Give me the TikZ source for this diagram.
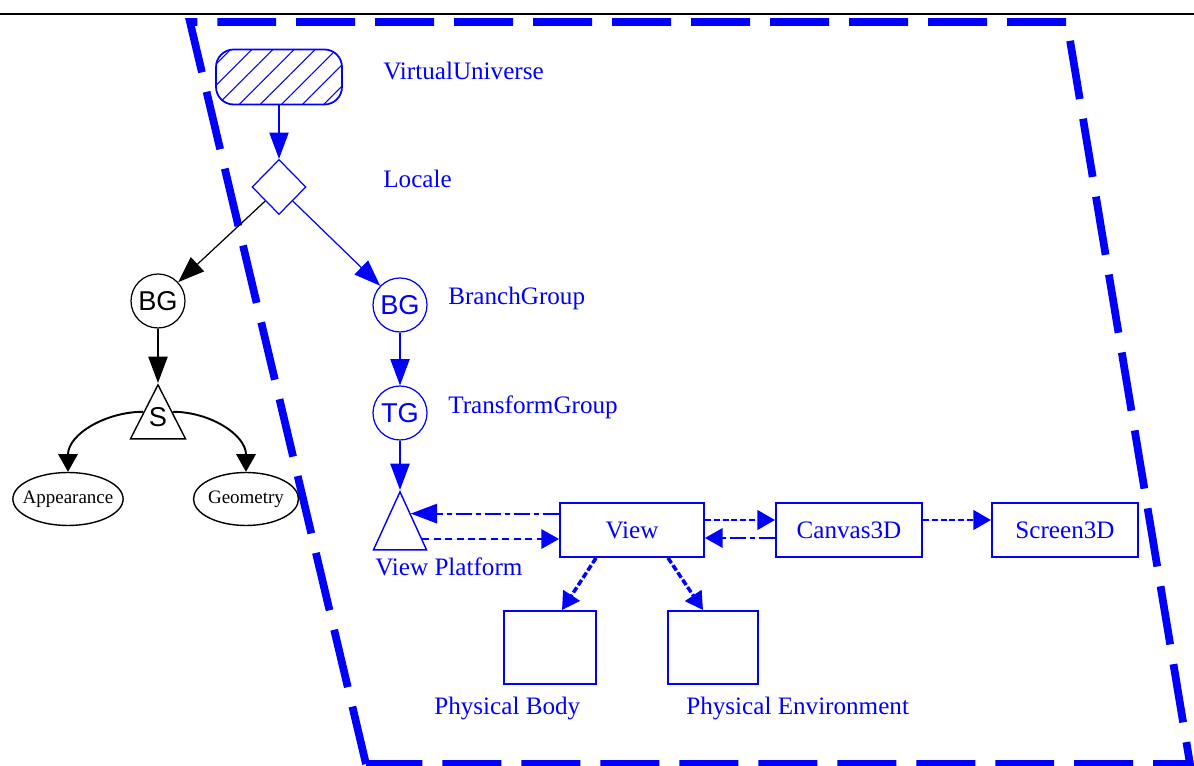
\documentclass[tikz,border=0pt]{standalone}
\usepackage{fontspec}
\setmainfont{Liberation Serif}
\newfontfamily\grpfont{Liberation Sans}
\usetikzlibrary{arrows.meta,positioning,calc,shapes.geometric,patterns.meta}
\tikzset{
  frame/.style ={draw=blue,line width=4.4pt,dash pattern=on 1.18cm off 0.4cm},
  vu/.style    ={draw=blue,line width=1pt,rounded corners=10pt,minimum width=2.52cm,minimum height=1.1cm,
                 pattern={Lines[angle=45,distance=8.5pt,line width=0.6pt]},pattern color=blue},
  loc/.style   ={diamond,draw=blue,line width=0.7pt,minimum width=1.08cm,minimum height=1.1cm,inner sep=0pt},
  grp/.style   ={circle,draw,line width=0.7pt,minimum size=1.08cm,inner sep=0pt,font=\grpfont\fontsize{15.5}{18}\selectfont},
  tri/.style   ={isosceles triangle,isosceles triangle stretches,shape border rotate=90,draw,line width=0.8pt,
                 inner sep=0pt,anchor=apex},
  leaf/.style  ={ellipse,draw,line width=0.8pt,minimum height=1.06cm,inner xsep=-3.6pt,inner ysep=0pt,
                 font=\fontsize{10.8}{13}\selectfont},
  vbox/.style  ={draw=blue,text=blue,line width=1.1pt,inner sep=0pt,minimum height=1.08cm,font=\fontsize{14.3}{17}\selectfont},
  pbox/.style  ={draw=blue,line width=1.1pt,inner sep=0pt,minimum height=1.46cm},
  lbl/.style   ={text=blue,anchor=west,inner sep=0pt,font=\fontsize{14.3}{17}\selectfont},
  ar/.style    ={-{Triangle[length=15pt,width=11pt]},line width=0.7pt},
  sar/.style   ={-{Triangle[length=10pt,width=11pt]},draw=blue,fill=blue},
  ddot/.style  ={sar,line width=1.2pt,dash pattern=on 9pt off 2.5pt on 2.5pt off 2.5pt},
  dsh/.style   ={sar,line width=1pt,dash pattern=on 4pt off 2.5pt},
  tdsh/.style  ={sar,line width=1.7pt,dash pattern=on 3.5pt off 1.5pt},
  curv/.style  ={-{Triangle[length=10pt,width=11pt]},line width=1.1pt},
}
\begin{document}
\begin{tikzpicture}[x=0.02cm,y=-0.02cm]
  \useasboundingbox (0,0) rectangle (1194,766);
  \draw[line width=0.9pt] (0,14) -- (1194,14);
  \draw[frame] (366,764) -- (190,22) -- (1067,22) -- (1190,764) -- cycle;

  % scene graph
  \node[vu] (vu) at (279,77) {};
  \node[loc] (loc) at (279,187) {};
  \node[grp] (bgl) at (158,301) {BG};
  \node[grp,blue] (bgr) at (400,305) {BG};
  \node[grp,blue] (tg) at (400,413) {TG};
  \node[tri,minimum width=1.1cm,minimum height=1.08cm] (s) at (158,383) {};
  \node[font=\grpfont\fontsize{15.5}{18}\selectfont,inner sep=0pt] (stxt) at (158,417) {S};
  \node[leaf,minimum width=2.18cm] (app) at (68,499) {Appearance};
  \node[leaf,minimum width=2.1cm] (geo) at (246,499) {Geometry};
  \node[tri,blue,minimum width=1.06cm,minimum height=1.16cm] (vp) at (400,490) {};

  % view side
  \node[vbox,minimum width=2.88cm] (view) at (632,530) {View};
  \node[vbox,minimum width=2.92cm] (cvs) at (849,530) {Canvas3D};
  \node[vbox,minimum width=2.92cm] (scr) at (1065,530) {Screen3D};
  \node[pbox,minimum width=1.84cm] (pb) at (550,647.5) {};
  \node[pbox,minimum width=1.8cm] (pe) at (713,647.5) {};

  % labels
  \node[lbl] (vulbl) at (383,71) {VirtualUniverse};
  \node[lbl] (loclbl) at (383,179) {Locale};
  \node[lbl] (bglbl) at (448,298) {BranchGroup};
  \node[lbl] (tglbl) at (448,407) {TransformGroup};
  \node[lbl] (vplbl) at (375,567) {View Platform};
  \node[lbl] (pblbl) at (434,708) {Physical Body};
  \node[lbl] (pelbl) at (686,708) {Physical Environment};

  % edges
  \draw[ar,blue] (vu) -- (loc);
  \draw[ar] (loc.south west) -- (bgl);
  \draw[ar,blue] (loc.south east) -- (bgr);
  \draw[ar] (bgl) -- (s.apex);
  \draw[ar,blue] (bgr) -- (tg);
  \draw[ar,blue] (tg) -- (vp.apex);
  \draw[curv] (s.145) to[out=180,in=90] (app.north);
  \draw[curv] (s.35) to[out=0,in=90] (geo.north);

  \coordinate (vpu) at ($(vp.apex)!0.39!(vp.right corner)$);
  \coordinate (vpl) at ($(vp.apex)!0.81!(vp.right corner)$);
  \draw[ddot,-{Triangle[length=15pt,width=11pt]}] (view.west |- vpu) -- (vpu);
  \draw[dsh] (vpl) -- (view.west |- vpl);
  \draw[tdsh] ([yshift=0.2cm]view.east) -- ([yshift=0.2cm]cvs.west);
  \draw[ddot] ([yshift=-0.16cm]cvs.west) -- ([yshift=-0.16cm]view.east);
  \draw[tdsh] ([yshift=0.2cm]cvs.east) -- ([yshift=0.2cm]scr.west);
  \draw[tdsh,line width=2pt] ([xshift=-0.72cm]view.south) -- ([xshift=0.24cm]pb.north);
  \draw[tdsh,line width=2pt] ([xshift=0.72cm]view.south) -- ([xshift=-0.2cm]pe.north);
\end{tikzpicture}
\end{document}
